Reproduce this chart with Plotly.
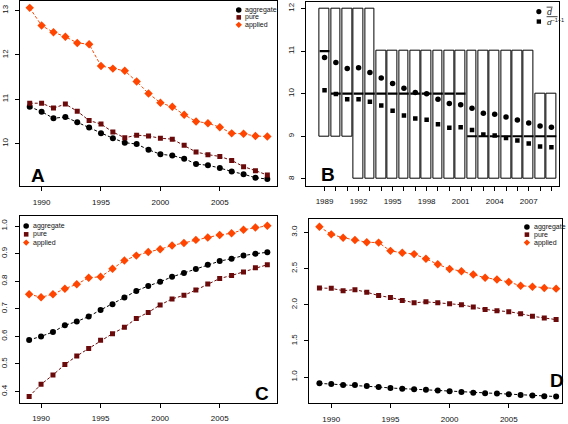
import plotly.graph_objects as go

W, H = 568, 424

years = list(range(1989, 2010))

# Panel A
A_aggregate = [10.83, 10.72, 10.57, 10.60, 10.48, 10.36, 10.23, 10.12, 10.02, 9.99, 9.86,
               9.76, 9.73, 9.66, 9.54, 9.51, 9.45, 9.37, 9.31, 9.23, 9.20]
A_pure = [10.91, 10.91, 10.80, 10.89, 10.73, 10.52, 10.44, 10.26, 10.13, 10.19, 10.17,
          10.12, 10.10, 9.96, 9.81, 9.75, 9.71, 9.62, 9.48, 9.39, 9.29]
A_applied = [13.06, 12.66, 12.51, 12.41, 12.27, 12.24, 11.75, 11.69, 11.64, 11.40, 11.13,
             10.92, 10.83, 10.65, 10.50, 10.46, 10.37, 10.23, 10.22, 10.17, 10.16]

# Panel B
B_mean = [10.85, 10.73, 10.59, 10.61, 10.50, 10.37, 10.24, 10.13, 10.03, 10.00, 9.87,
          9.77, 9.74, 9.66, 9.54, 9.52, 9.45, 9.38, 9.31, 9.24, 9.21]
B_harm = [10.08, 9.99, 9.87, 9.87, 9.81, 9.72, 9.60, 9.49, 9.42, 9.39, 9.28,
          9.20, 9.21, 9.15, 9.04, 9.02, 8.96, 8.90, 8.83, 8.76, 8.74]
B_q1 = [9, 9, 9, 8, 8, 8, 8, 8, 8, 8, 8, 8, 8, 8, 8, 8, 8, 8, 8, 8, 8]
B_q3 = [12, 12, 12, 12, 12, 11, 11, 11, 11, 11, 11, 11, 11, 11, 11, 11, 11, 11, 11, 10, 10]
B_median = [11, 10, 10, 10, 10, 10, 10, 10, 10, 10, 10, 10, 10, 9, 9, 9, 9, 9, 9, 9, 9]
B_ticklabels = ["1989", "", "", "1992", "", "", "1995", "", "", "1998", "", "", "2001", "", "",
                "2004", "", "", "2007", "", ""]

# Panel C
C_aggregate = [0.587, 0.600, 0.616, 0.640, 0.654, 0.672, 0.696, 0.717, 0.741, 0.765, 0.783,
               0.798, 0.816, 0.830, 0.844, 0.860, 0.873, 0.882, 0.893, 0.900, 0.905]
C_pure = [0.382, 0.426, 0.460, 0.498, 0.529, 0.556, 0.586, 0.610, 0.633, 0.665, 0.687,
          0.714, 0.736, 0.749, 0.768, 0.790, 0.810, 0.821, 0.834, 0.849, 0.860]
C_applied = [0.753, 0.742, 0.753, 0.773, 0.789, 0.813, 0.816, 0.845, 0.875, 0.893, 0.906,
             0.916, 0.930, 0.939, 0.950, 0.959, 0.968, 0.974, 0.987, 0.995, 1.001]

# Panel D
D_aggregate = [0.914, 0.905, 0.891, 0.891, 0.877, 0.864, 0.850, 0.841, 0.832, 0.827, 0.814,
               0.805, 0.795, 0.786, 0.777, 0.773, 0.764, 0.755, 0.745, 0.736, 0.732]
D_pure = [2.232, 2.227, 2.195, 2.209, 2.173, 2.127, 2.100, 2.059, 2.027, 2.041, 2.027,
          2.014, 2.000, 1.968, 1.936, 1.918, 1.905, 1.877, 1.841, 1.818, 1.795]
D_applied = [3.077, 2.973, 2.927, 2.895, 2.864, 2.859, 2.745, 2.718, 2.700, 2.636, 2.559,
             2.495, 2.464, 2.418, 2.373, 2.350, 2.314, 2.264, 2.250, 2.232, 2.223]

series_names = ["aggregate", "pure", "applied"]
COL = {"aggregate": "#000000", "pure": "#6A0A0A", "applied": "#FF4500"}
SYM = {"aggregate": "circle", "pure": "square", "applied": "diamond"}
SIZE = {"aggregate": 6, "pure": 5, "applied": 6.5}
FONT = "Liberation Sans, Arial, sans-serif"
TXT = "#111111"


def px(x):
    return x / W


def py(y):
    return 1 - y / H


fig = go.Figure()

panels = {
    "A": dict(xa="x", ya="y", data=[A_aggregate, A_pure, A_applied]),
    "C": dict(xa="x3", ya="y3", data=[C_aggregate, C_pure, C_applied]),
    "D": dict(xa="x4", ya="y4", data=[D_aggregate, D_pure, D_applied]),
}
for key, p in panels.items():
    for name, vals in zip(series_names, p["data"]):
        fig.add_trace(go.Scatter(
            x=years, y=vals, mode="lines+markers", xaxis=p["xa"], yaxis=p["ya"],
            line=dict(color=COL[name], width=1, dash="3px,2px"),
            marker=dict(color=COL[name], symbol=SYM[name], size=SIZE[name], line=dict(width=0)),
            showlegend=False, hoverinfo="skip"))

# Panel B boxes
box_w = 0.86
fig.add_trace(go.Bar(
    x=years, y=[b - a for a, b in zip(B_q1, B_q3)], base=B_q1, width=box_w,
    xaxis="x2", yaxis="y2",
    marker=dict(color="white", line=dict(color="black", width=1)),
    showlegend=False, hoverinfo="skip"))
mx, my = [], []
for yr, m in zip(years, B_median):
    mx += [yr - box_w / 2, yr + box_w / 2, None]
    my += [m, m, None]
fig.add_trace(go.Scatter(x=mx, y=my, mode="lines", xaxis="x2", yaxis="y2",
                         line=dict(color="black", width=2.2), showlegend=False, hoverinfo="skip"))
fig.add_trace(go.Scatter(x=years, y=B_mean, mode="markers", xaxis="x2", yaxis="y2",
                         marker=dict(color="black", symbol="circle", size=5.5),
                         showlegend=False, hoverinfo="skip"))
fig.add_trace(go.Scatter(x=years, y=B_harm, mode="markers", xaxis="x2", yaxis="y2",
                         marker=dict(color="black", symbol="square", size=4.5),
                         showlegend=False, hoverinfo="skip"))

axis_common = dict(showgrid=False, zeroline=False, showline=True, mirror=True,
                   linecolor="black", linewidth=1, ticks="outside", ticklen=4,
                   tickcolor="black", tickwidth=1,
                   tickfont=dict(family=FONT, size=8, color=TXT))
xax = dict(ticklabelstandoff=4, **axis_common)
yax = dict(ticklabelstandoff=4, tickangle=-90, **axis_common)

# pixel boxes (x0, x1, y0, y1)
boxes = {
    "A": (17.3, 275.3, 1.0, 187.7),
    "B": (305.0, 559.3, 1.7, 187.0),
    "C": (16.7, 275.3, 218.0, 405.7),
    "D": (308.0, 562.0, 220.5, 406.0),
}


def dom(b):
    x0, x1, y0, y1 = b
    return [px(x0), px(x1)], [py(y1), py(y0)]


xdA, ydA = dom(boxes["A"])
xdB, ydB = dom(boxes["B"])
xdC, ydC = dom(boxes["C"])
xdD, ydD = dom(boxes["D"])

year_ticks = [1990, 1995, 2000, 2005]

fig.update_layout(
    width=W, height=H, margin=dict(l=0, r=0, t=0, b=0),
    paper_bgcolor="white", plot_bgcolor="white", showlegend=False,
    bargap=0,
    xaxis=dict(domain=xdA, range=[1988.2, 2009.8], tickvals=year_ticks, anchor="y", **xax),
    yaxis=dict(domain=ydA, range=[9.035, 13.215], tickvals=[10, 11, 12, 13], anchor="x", **yax),
    xaxis2=dict(domain=xdB, range=[1987.4, 2009.7], tickvals=years, ticktext=B_ticklabels,
                anchor="y2", **xax),
    yaxis2=dict(domain=ydB, range=[7.84, 12.16], tickvals=[8, 9, 10, 11, 12], anchor="x2", **yax),
    xaxis3=dict(domain=xdC, range=[1988.2, 2009.8], tickvals=year_ticks, anchor="y3", **xax),
    yaxis3=dict(domain=ydC, range=[0.359, 1.035], tickvals=[0.4, 0.5, 0.6, 0.7, 0.8, 0.9, 1.0],
                tickformat=".1f", anchor="x3", **yax),
    xaxis4=dict(domain=xdD, range=[1988.15, 2009.5], tickvals=year_ticks, anchor="y4", **xax),
    yaxis4=dict(domain=ydD, range=[0.641, 3.186], tickvals=[1.0, 1.5, 2.0, 2.5, 3.0],
                tickformat=".1f", anchor="x4", **yax),
)

annotations = []
# Panel letters
for letter, (lx, ly) in {"A": (35, 176.7), "B": (326.3, 176), "C": (260.3, 396.3),
                         "D": (556.7, 383.7)}.items():
    annotations.append(dict(text="<b>%s</b>" % letter, x=px(lx), y=py(ly), xref="paper",
                            yref="paper", showarrow=False, xanchor="center", yanchor="middle",
                            font=dict(family=FONT, size=19, color="black")))

shapes = []


def legend_marker(kind, cx, cy, color, r):
    if kind == "circle":
        shapes.append(dict(type="circle", xref="paper", yref="paper",
                           x0=px(cx - r), x1=px(cx + r), y0=py(cy + r), y1=py(cy - r),
                           fillcolor=color, line=dict(width=0)))
    elif kind == "square":
        shapes.append(dict(type="rect", xref="paper", yref="paper",
                           x0=px(cx - r), x1=px(cx + r), y0=py(cy + r), y1=py(cy - r),
                           fillcolor=color, line=dict(width=0)))
    else:
        path = "M %f %f L %f %f L %f %f L %f %f Z" % (
            px(cx), py(cy - r - 0.6), px(cx + r + 0.6), py(cy), px(cx), py(cy + r + 0.6),
            px(cx - r - 0.6), py(cy))
        shapes.append(dict(type="path", xref="paper", yref="paper", path=path,
                           fillcolor=color, line=dict(width=0)))


def add_legend(mx_, tx, ys):
    for name, yy in zip(series_names, ys):
        r = {"aggregate": 2.8, "pure": 2.3, "applied": 2.6}[name]
        legend_marker(SYM[name], mx_, yy, COL[name], r)
        annotations.append(dict(text=name, x=px(tx), y=py(yy), xref="paper", yref="paper",
                                showarrow=False, xanchor="left", yanchor="middle",
                                font=dict(family=FONT, size=7, color=TXT)))


add_legend(237.0, 241.5, [10.0, 17.5, 25.0])
add_legend(23.3, 27.8, [227.7, 236.0, 244.3])
add_legend(526.7, 531.5, [228.7, 236.3, 244.3])

# Panel B legend
legend_marker("circle", 538.7, 11.7, "black", 2.6)
legend_marker("square", 538.7, 21.7, "black", 2.2)
annotations.append(dict(text="<i>d</i>", x=px(545), y=py(12.0), xref="paper", yref="paper",
                        showarrow=False, xanchor="left", yanchor="middle",
                        font=dict(family=FONT, size=8.5, color=TXT)))
annotations.append(dict(text="<i>d</i><sup>\u22121\u22121</sup>", x=px(545), y=py(22.0),
                        xref="paper", yref="paper", showarrow=False, xanchor="left",
                        yanchor="middle", font=dict(family=FONT, size=8, color=TXT)))
# overlines of the legend symbols
shapes.append(dict(type="line", xref="paper", yref="paper", x0=px(546.5), x1=px(552.5),
                   y0=py(7.2), y1=py(7.2), line=dict(color=TXT, width=0.8)))
shapes.append(dict(type="line", xref="paper", yref="paper", x0=px(546.5), x1=px(557.5),
                   y0=py(16.8), y1=py(16.8), line=dict(color=TXT, width=0.8)))

fig.update_layout(annotations=annotations, shapes=shapes)

fig.write_html("out.html", config={"displayModeBar": False},
               post_script="document.body.style.margin='0';document.body.style.overflow='hidden';")
